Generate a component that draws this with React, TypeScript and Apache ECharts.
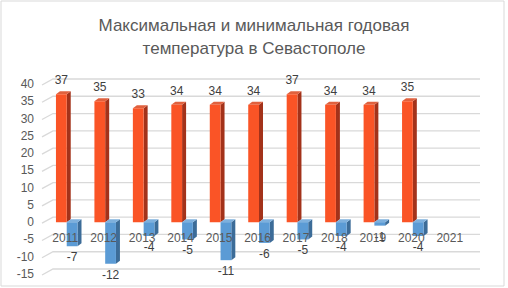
import React, { useEffect, useRef } from "react";
import * as echarts from "echarts";

const years = ["2011", "2012", "2013", "2014", "2015", "2016", "2017", "2018", "2019", "2020", "2021"];
const maxTemps: (number | null)[] = [37, 35, 33, 34, 34, 34, 37, 34, 34, 35, null];
const minTemps: (number | null)[] = [-7, -12, -4, -5, -11, -6, -5, -4, -1, -4, null];
const yTicks = [-15, -10, -5, 0, 5, 10, 15, 20, 25, 30, 35, 40];
const titleText = "Максимальная и минимальная годовая\nтемпература в Севастополе";

const FONT = "Liberation Sans";
const DX = 4;
const DY = 3;

function makeBarRender(side: "left" | "right", front: string, dark: string, light: string) {
  return (params: any, api: any) => {
    const i = api.value(0);
    const v = api.value(1);
    if (v === null || v === undefined || isNaN(v)) return null;
    const p = api.coord([i, v]);
    const y0 = api.coord([i, 0])[1];
    const band = api.size([1, 0])[0];
    const w = band * 0.28;
    const cx = p[0] + 1.5;
    const xl = side === "left" ? cx - w : cx;
    const xr = xl + w;
    const top = Math.min(p[1], y0);
    const bottom = Math.max(p[1], y0);
    const labelY = v >= 0 ? top - 14 : bottom + 11;
    return {
      type: "group",
      children: [
        {
          type: "polygon",
          shape: { points: [[xr, top], [xr + DX, top - DY], [xr + DX, bottom - DY], [xr, bottom]] },
          style: { fill: dark },
        },
        {
          type: "polygon",
          shape: { points: [[xl, top], [xl + DX, top - DY], [xr + DX, top - DY], [xr, top]] },
          style: { fill: light },
        },
        {
          type: "rect",
          shape: { x: xl, y: top, width: w, height: bottom - top },
          style: { fill: front },
        },
        {
          type: "text",
          x: (xl + xr) / 2,
          y: labelY,
          style: {
            text: String(v),
            fill: "#404040",
            font: `12px "${FONT}"`,
            align: "center",
            verticalAlign: "middle",
          },
          z2: 10,
        },
      ],
    };
  };
}

export default function App() {
  const ref = useRef<HTMLDivElement>(null);
  useEffect(() => {
    if (!ref.current) return;
    const chart = echarts.init(ref.current, undefined, { renderer: "svg" });
    const maxData = years.map((_, i) => [i, maxTemps[i]]).filter((d) => d[1] !== null);
    const minData = years.map((_, i) => [i, minTemps[i]]).filter((d) => d[1] !== null);
    chart.setOption({
      animation: false,
      backgroundColor: "#ffffff",
      textStyle: { fontFamily: FONT },
      title: {
        text: titleText,
        left: "center",
        top: 9,
        textStyle: { fontFamily: FONT, fontSize: 17, fontWeight: "normal", color: "#595959", lineHeight: 23 },
      },
      graphic: [
        {
          type: "rect",
          shape: { x: 1, y: 1, width: 503, height: 285 },
          style: { fill: "none", stroke: "#d9d9d9", lineWidth: 1 },
          silent: true,
        },
      ],
      grid: { left: 46, right: 39, top: 84, bottom: 14, containLabel: false },
      xAxis: {
        type: "category",
        data: years,
        axisLine: { show: false },
        axisTick: { show: false },
        axisLabel: { show: false },
        splitLine: { show: false },
      },
      yAxis: {
        type: "value",
        min: -15,
        max: 40,
        interval: 5,
        axisLine: { show: false },
        axisTick: { show: false },
        splitLine: { show: false },
        axisLabel: { color: "#595959", fontSize: 12, margin: 12, fontFamily: FONT },
      },
      series: [
        {
          type: "custom",
          name: "grid",
          silent: true,
          z: 1,
          data: yTicks.map((t) => [0, t]),
          encode: { x: 0, y: 1 },
          renderItem: (params: any, api: any) => {
            const v = api.value(1);
            const y = api.coord([0, v])[1];
            const cs = params.coordSys;
            return {
              type: "polyline",
              shape: {
                points: [
                  [cs.x - 4, y + 1],
                  [cs.x + 7, y - 5],
                  [cs.x + cs.width + 11, y - 5],
                ],
              },
              style: { stroke: "#d9d9d9", lineWidth: 1.3, fill: "none" },
            };
          },
        },
        {
          type: "custom",
          name: "max",
          z: 3,
          data: maxData,
          encode: { x: 0, y: 1 },
          renderItem: makeBarRender("left", "#FA5426", "#A3321A", "#E0613E"),
        },
        {
          type: "custom",
          name: "min",
          z: 3,
          data: minData,
          encode: { x: 0, y: 1 },
          renderItem: makeBarRender("right", "#5B9BD5", "#3C6C98", "#7EB0DD"),
        },
        {
          type: "custom",
          name: "categoryLabels",
          silent: true,
          z: 5,
          data: years.map((_, i) => [i, 0]),
          encode: { x: 0, y: 1 },
          renderItem: (params: any, api: any) => {
            const i = api.value(0);
            const p = api.coord([i, 0]);
            return {
              type: "text",
              x: p[0],
              y: p[1] + 16,
              style: {
                text: years[i],
                fill: "#595959",
                font: `12px "${FONT}"`,
                align: "center",
                verticalAlign: "middle",
              },
            };
          },
        },
      ],
    });
    return () => chart.dispose();
  }, []);
  return <div ref={ref} style={{ position: "fixed", left: 0, top: 0, width: 508, height: 288 }} />;
}
